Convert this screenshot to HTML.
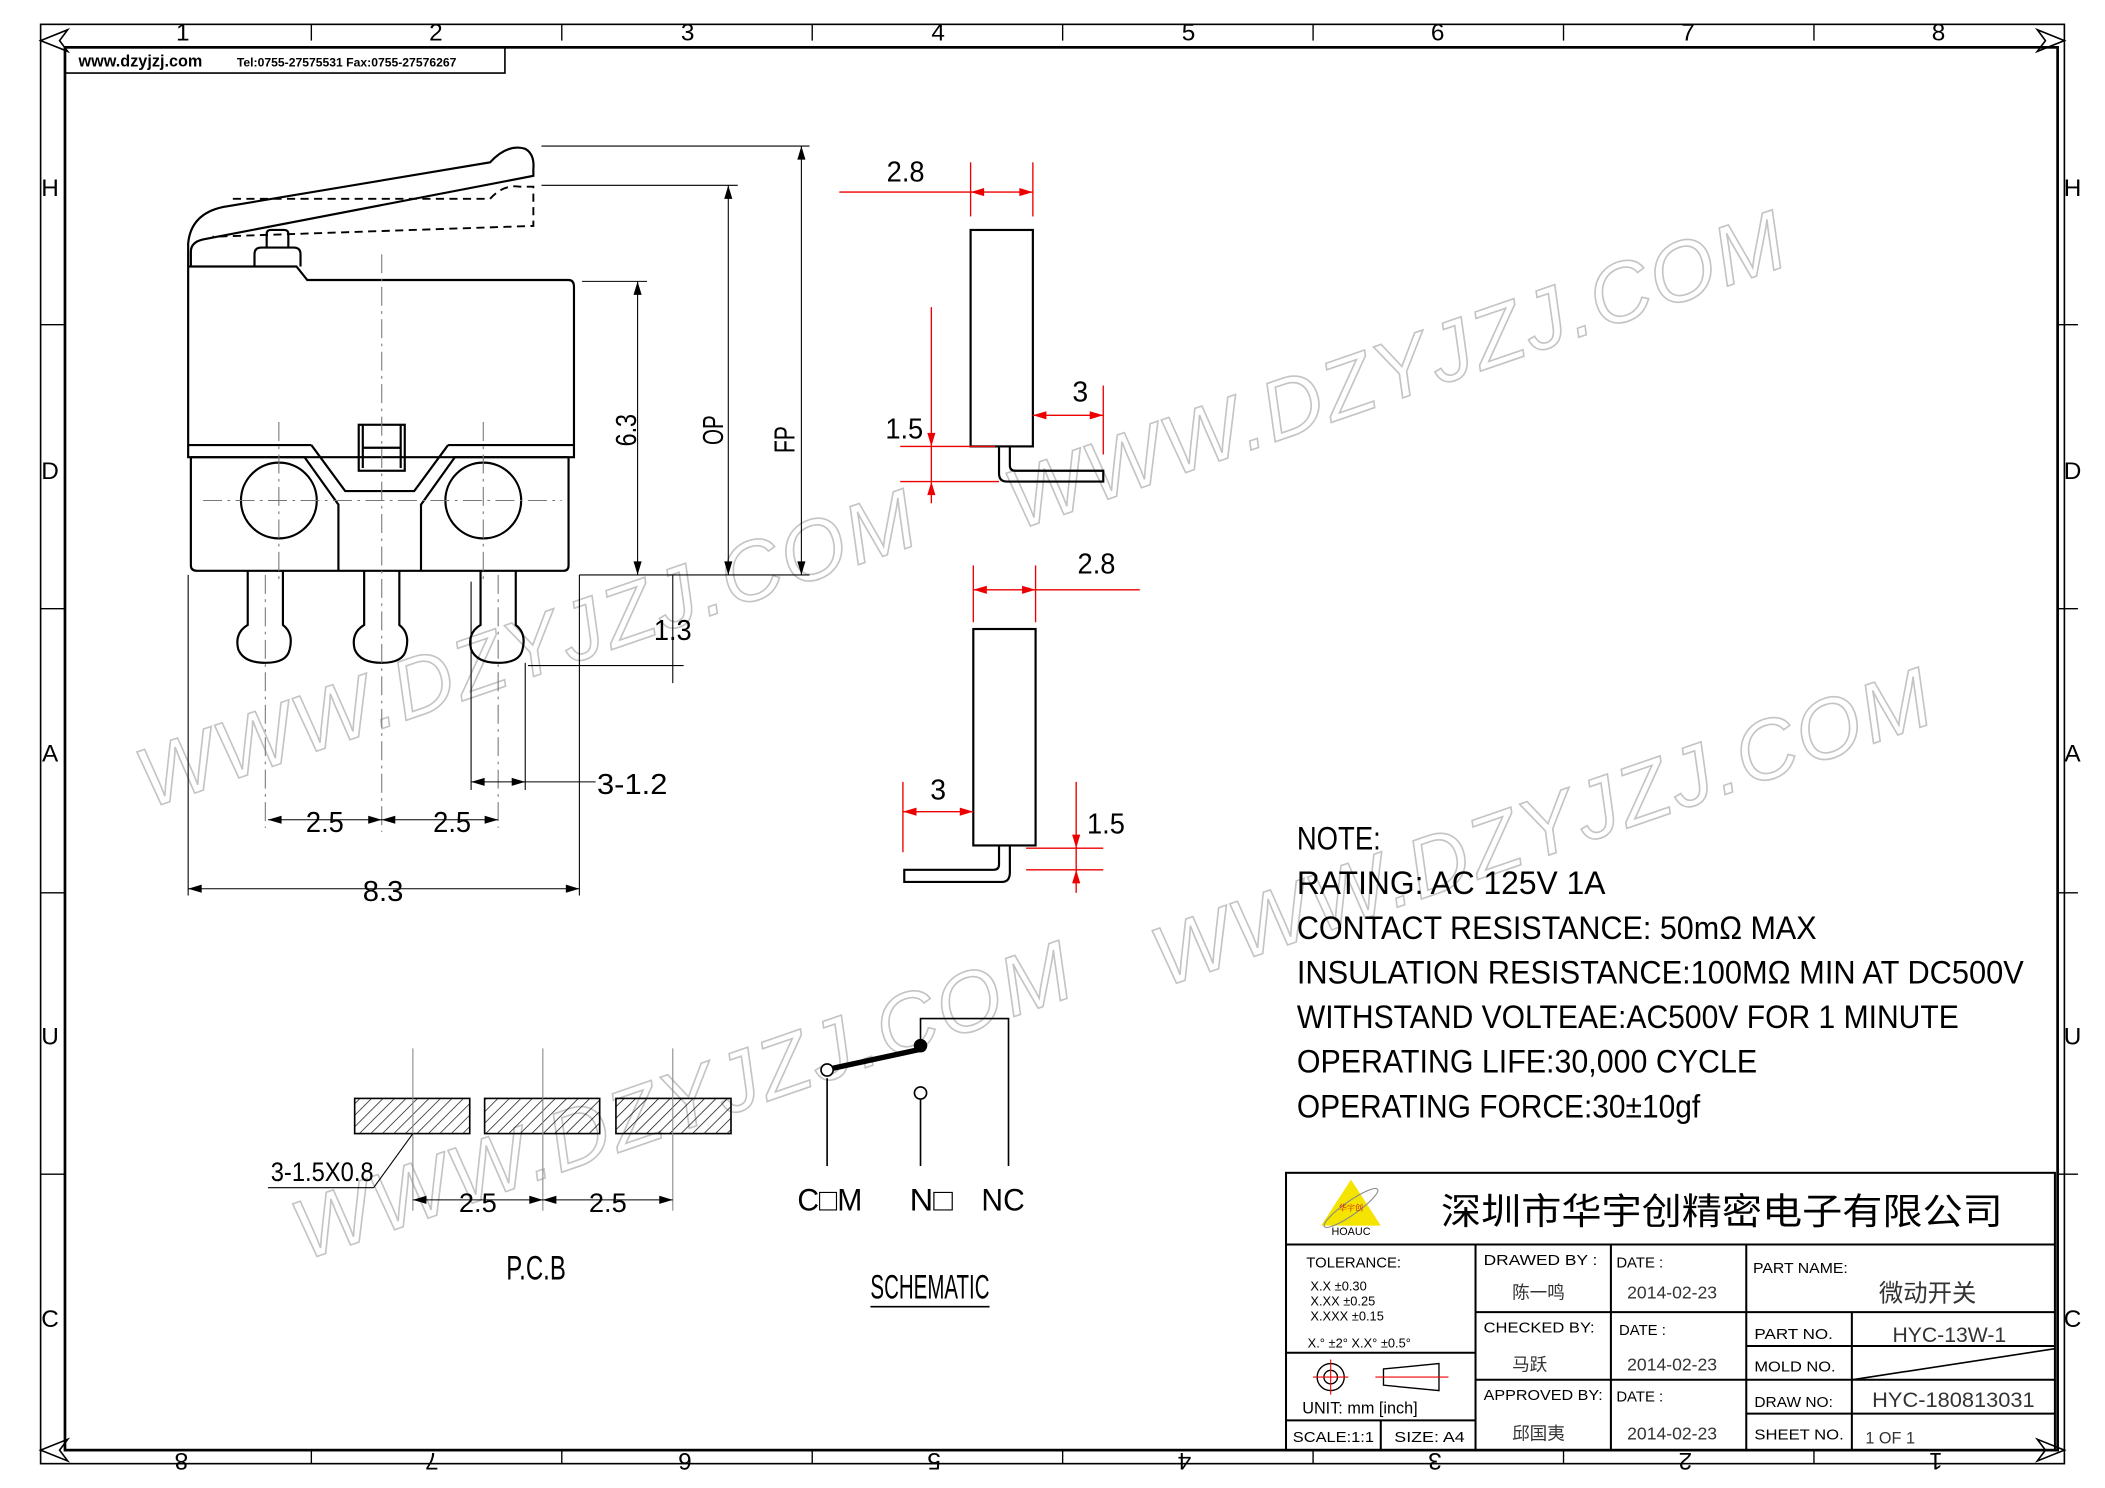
<!DOCTYPE html>
<html><head><meta charset="utf-8"><style>
html,body{margin:0;padding:0;background:#fff;}
svg{display:block;}
text{font-family:"Liberation Sans","Noto Sans CJK SC",sans-serif;}
.cn{font-family:"Liberation Serif","Noto Serif CJK SC","Noto Sans CJK SC",serif;}
</style></head><body>
<svg width="2105" height="1488" viewBox="0 0 1555 1100" preserveAspectRatio="none" xmlns="http://www.w3.org/2000/svg">
<defs>
<pattern id="h" width="6" height="6" patternUnits="userSpaceOnUse" patternTransform="rotate(45)"><line x1="0" y1="0" x2="0" y2="6" stroke="#000" stroke-width="1"/></pattern>
</defs>
<rect width="1555" height="1100" fill="#fff"/>
<!-- watermarks -->
<g fill="none" stroke="#c4c4c4" stroke-width="1.2" font-size="62" font-style="italic" font-family="Liberation Sans, sans-serif" letter-spacing="6">
<text x="110" y="598" transform="rotate(-19 110 598)" textLength="610">WWW.DZYJZJ.COM</text>
<text x="752" y="392" transform="rotate(-19 752 392)" textLength="610">WWW.DZYJZJ.COM</text>
<text x="225" y="932" transform="rotate(-19 225 932)" textLength="610">WWW.DZYJZJ.COM</text>
<text x="860" y="730" transform="rotate(-19 860 730)" textLength="610">WWW.DZYJZJ.COM</text>
</g>
<!-- frame -->
<g fill="none" stroke="#000">
<rect x="30" y="18" width="1495" height="1064" stroke-width="1.2"/>
<rect x="48" y="35" width="1472" height="1037" stroke-width="2"/>
<rect x="48" y="35" width="325" height="19" stroke-width="1.2"/>
</g>
<g stroke="#000" stroke-width="1">
<line x1="230" y1="18" x2="230" y2="30"/><line x1="415" y1="18" x2="415" y2="30"/><line x1="600" y1="18" x2="600" y2="30"/><line x1="785" y1="18" x2="785" y2="30"/><line x1="970" y1="18" x2="970" y2="30"/><line x1="1155" y1="18" x2="1155" y2="30"/><line x1="1340" y1="18" x2="1340" y2="30"/>
<line x1="230" y1="1072" x2="230" y2="1082"/><line x1="415" y1="1072" x2="415" y2="1082"/><line x1="600" y1="1072" x2="600" y2="1082"/><line x1="785" y1="1072" x2="785" y2="1082"/><line x1="970" y1="1072" x2="970" y2="1082"/><line x1="1155" y1="1072" x2="1155" y2="1082"/><line x1="1340" y1="1072" x2="1340" y2="1082"/>
<line x1="30" y1="240" x2="48" y2="240"/><line x1="30" y1="450" x2="48" y2="450"/><line x1="30" y1="660" x2="48" y2="660"/><line x1="30" y1="868" x2="48" y2="868"/>
<line x1="1520" y1="240" x2="1535" y2="240"/><line x1="1520" y1="450" x2="1535" y2="450"/><line x1="1520" y1="660" x2="1535" y2="660"/><line x1="1520" y1="868" x2="1535" y2="868"/>
</g>
<g fill="none" stroke="#000" stroke-width="1.2">
<path d="M30,30 L50,22 L44,30 L50,38 Z"/><path d="M1525,30 L1505,22 L1511,30 L1505,38 Z"/>
<path d="M30,1072 L50,1064 L44,1072 L50,1080 Z"/><path d="M1525,1072 L1505,1064 L1511,1072 L1505,1080 Z"/>
</g>
<g font-size="18" fill="#000" text-anchor="middle">
<text x="135" y="30">1</text><text x="322" y="30">2</text><text x="508" y="30">3</text><text x="693" y="30">4</text><text x="878" y="30">5</text><text x="1062" y="30">6</text><text x="1247" y="30">7</text><text x="1432" y="30">8</text>
<g transform="rotate(180 778 1082)"><text x="126" y="1090">1</text><text x="311" y="1090">2</text><text x="496" y="1090">3</text><text x="681" y="1090">4</text><text x="866" y="1090">5</text><text x="1050" y="1090">6</text><text x="1237" y="1090">7</text><text x="1422" y="1090">8</text></g>
<text x="37" y="145">H</text><text x="37" y="354">D</text><text x="37" y="563">A</text><text x="37" y="772">U</text><text x="37" y="981">C</text>
<text x="1531" y="145">H</text><text x="1531" y="354">D</text><text x="1531" y="563">A</text><text x="1531" y="772">U</text><text x="1531" y="981">C</text>
</g>
<text x="58" y="49" font-size="12" font-weight="bold" font-family="Liberation Serif, serif">www.dzyjzj.com</text>
<text x="175" y="49" font-size="9" font-weight="bold" font-family="Liberation Serif, serif">Tel:0755-27575531  Fax:0755-27576267</text>

<!-- switch front view -->
<g fill="none" stroke="#000" stroke-width="1.6">
<path d="M139,338 L139,197 L219,197 L227,207 L420,207 Q424,207 424,212 L424,338 Z"/>
<line x1="139" y1="329" x2="230" y2="329"/><line x1="331" y1="329" x2="424" y2="329"/>
<path d="M230,329 L255,363 L306,363 L331,329"/>
<path d="M141,338 L141,418 Q141,422 146,422 L416,422 Q420,422 420,418 L420,338"/>
<path d="M141,338 L225,338 L250,373 L250,422"/><path d="M420,338 L336,338 L311,373 L311,422"/>
<circle cx="206" cy="370" r="28"/><circle cx="357" cy="370" r="28"/>
<rect x="265" y="314" width="34" height="34"/><line x1="268" y1="331" x2="296" y2="331"/><line x1="268" y1="314" x2="268" y2="346"/><line x1="296" y1="314" x2="296" y2="346"/>
<path d="M188,197 L188,188 Q188,183 193,183 L217,183 Q222,183 222,188 L222,197"/>
<path d="M197,183 L197,173 Q197,170 200,170 L210,170 Q213,170 213,173 L213,183"/>
<path d="M139,197 L139,180 Q141,158 165,153 L362,120 Q375,106 388,110 Q395,114 394,125 L394,130 L150,177 Q141,179 141,186 L141,197"/>
<path d="M183,422 L183,462 Q173,468 176,480 Q180,490 196,490 Q212,490 214,480 Q217,468 209,462 L209,422"/>
<path d="M269,422 L269,462 Q259,468 262,480 Q266,490 282,490 Q298,490 300,480 Q303,468 295,462 L295,422"/>
<path d="M355,422 L355,462 Q345,468 348,480 Q352,490 368,490 Q384,490 386,480 Q389,468 381,462 L381,422"/>
</g>
<g fill="none" stroke="#000" stroke-width="1.4" stroke-dasharray="6,4">
<path d="M172,147 L362,147 Q372,136 384,138 L394,138 L394,167 L157,175"/>
</g>
<g fill="none" stroke="#777" stroke-width="0.8" stroke-dasharray="14,4,2,4">
<line x1="282" y1="188" x2="282" y2="615"/>
<line x1="150" y1="370" x2="415" y2="370"/>
<line x1="206" y1="312" x2="206" y2="428"/><line x1="357" y1="312" x2="357" y2="428"/>
<line x1="196" y1="425" x2="196" y2="612"/><line x1="368" y1="425" x2="368" y2="612"/>
</g>
<g stroke="#000" stroke-width="0.8" fill="none">
<line x1="400" y1="108" x2="598" y2="108"/><line x1="400" y1="137" x2="545" y2="137"/>
<line x1="430" y1="208" x2="478" y2="208"/><line x1="428" y1="425" x2="598" y2="425"/>
<line x1="592" y1="108" x2="592" y2="425"/><line x1="538" y1="137" x2="538" y2="425"/><line x1="471" y1="208" x2="471" y2="425"/>
<line x1="390" y1="492" x2="505" y2="492"/><line x1="497" y1="425" x2="497" y2="505"/>
<line x1="348" y1="430" x2="348" y2="584"/><line x1="388" y1="490" x2="388" y2="584"/>
<line x1="348" y1="578" x2="440" y2="578"/>
<line x1="198" y1="606" x2="368" y2="606"/>
<line x1="139" y1="425" x2="139" y2="662"/><line x1="428" y1="425" x2="428" y2="662"/>
<line x1="139" y1="657" x2="428" y2="657"/>
</g>
<g fill="#000">
<path d="M592,108 l-3,10 l6,0z"/><path d="M592,425 l-3,-10 l6,0z"/>
<path d="M538,137 l-3,10 l6,0z"/><path d="M538,425 l-3,-10 l6,0z"/>
<path d="M471,208 l-3,10 l6,0z"/><path d="M471,425 l-3,-10 l6,0z"/>
<path d="M348,578 l10,-3 l0,6z"/><path d="M388,578 l-10,-3 l0,6z"/>
<path d="M198,606 l10,-3 l0,6z"/><path d="M282,606 l-10,-3 l0,6z"/><path d="M282,606 l10,-3 l0,6z"/><path d="M368,606 l-10,-3 l0,6z"/>
<path d="M139,657 l10,-3 l0,6z"/><path d="M428,657 l-10,-3 l0,6z"/>
</g>
<g font-size="21" fill="#000" text-anchor="middle">
<text x="464" y="318" transform="rotate(-90 464 318)" dy="6" textLength="24" lengthAdjust="spacingAndGlyphs">6.3</text>
<text x="528" y="318" transform="rotate(-90 528 318)" dy="6" textLength="22" lengthAdjust="spacingAndGlyphs">OP</text>
<text x="581" y="325" transform="rotate(-90 581 325)" dy="6" textLength="20" lengthAdjust="spacingAndGlyphs">FP</text>
<text x="497" y="473" textLength="28" lengthAdjust="spacingAndGlyphs">1.3</text>
<text x="467" y="587" textLength="52" lengthAdjust="spacingAndGlyphs">3-1.2</text>
<text x="240" y="615" textLength="28" lengthAdjust="spacingAndGlyphs">2.5</text><text x="334" y="615" textLength="28" lengthAdjust="spacingAndGlyphs">2.5</text>
<text x="283" y="666" textLength="30" lengthAdjust="spacingAndGlyphs">8.3</text>
</g>

<!-- side views -->
<g fill="none" stroke="#000" stroke-width="1.6">
<rect x="717" y="170" width="46" height="160"/>
<path d="M738,330 L738,350 Q738,356 744,356 L815,356 L815,348 L750,348 Q746,348 746,344 L746,330"/>
<rect x="719" y="465" width="46" height="160"/>
<path d="M746,625 L746,645 Q746,652 740,652 L668,652 L668,643 L734,643 Q738,643 738,639 L738,625"/>
</g>
<g stroke="#e00" stroke-width="1" fill="none">
<line x1="717" y1="120" x2="717" y2="160"/><line x1="763" y1="120" x2="763" y2="160"/><line x1="620" y1="142" x2="763" y2="142"/>
<line x1="815" y1="285" x2="815" y2="336"/><line x1="763" y1="307" x2="815" y2="307"/>
<line x1="688" y1="227" x2="688" y2="372"/><line x1="665" y1="330" x2="735" y2="330"/><line x1="665" y1="356" x2="738" y2="356"/>
<line x1="719" y1="418" x2="719" y2="460"/><line x1="765" y1="418" x2="765" y2="460"/><line x1="719" y1="436" x2="842" y2="436"/>
<line x1="667" y1="578" x2="667" y2="630"/><line x1="667" y1="600" x2="719" y2="600"/>
<line x1="795" y1="578" x2="795" y2="660"/><line x1="758" y1="627" x2="815" y2="627"/><line x1="758" y1="643" x2="815" y2="643"/>
</g>
<g fill="#e00">
<path d="M717,142 l10,-3 l0,6z"/><path d="M763,142 l-10,-3 l0,6z"/>
<path d="M763,307 l10,-3 l0,6z"/><path d="M815,307 l-10,-3 l0,6z"/>
<path d="M688,330 l-3,-10 l6,0z"/><path d="M688,356 l-3,10 l6,0z"/>
<path d="M719,436 l10,-3 l0,6z"/><path d="M765,436 l-10,-3 l0,6z"/>
<path d="M667,600 l10,-3 l0,6z"/><path d="M719,600 l-10,-3 l0,6z"/>
<path d="M795,627 l-3,-10 l6,0z"/><path d="M795,643 l-3,10 l6,0z"/>
</g>
<g font-size="21" fill="#000" text-anchor="middle">
<text x="669" y="134" textLength="28" lengthAdjust="spacingAndGlyphs">2.8</text><text x="798" y="297">3</text><text x="668" y="324" textLength="28" lengthAdjust="spacingAndGlyphs">1.5</text>
<text x="810" y="424" textLength="28" lengthAdjust="spacingAndGlyphs">2.8</text><text x="693" y="591">3</text><text x="817" y="616" textLength="28" lengthAdjust="spacingAndGlyphs">1.5</text>
</g>

<!-- notes -->
<g font-size="24" fill="#000">
<text x="958" y="628" textLength="62" lengthAdjust="spacingAndGlyphs">NOTE:</text>
<text x="958" y="661" textLength="228" lengthAdjust="spacingAndGlyphs">RATING: AC 125V 1A</text>
<text x="958" y="694" textLength="384" lengthAdjust="spacingAndGlyphs">CONTACT RESISTANCE: 50mΩ MAX</text>
<text x="958" y="727" textLength="537" lengthAdjust="spacingAndGlyphs">INSULATION RESISTANCE:100MΩ MIN AT DC500V</text>
<text x="958" y="760" textLength="489" lengthAdjust="spacingAndGlyphs">WITHSTAND VOLTEAE:AC500V FOR 1 MINUTE</text>
<text x="958" y="793" textLength="340" lengthAdjust="spacingAndGlyphs">OPERATING LIFE:30,000 CYCLE</text>
<text x="958" y="826" textLength="298" lengthAdjust="spacingAndGlyphs">OPERATING FORCE:30±10gf</text>
</g>

<!-- PCB -->
<g stroke="#000" stroke-width="1.2">
<rect x="262" y="812" width="85" height="26" fill="url(#h)"/>
<rect x="358" y="812" width="85" height="26" fill="url(#h)"/>
<rect x="455" y="812" width="85" height="26" fill="url(#h)"/>
</g>
<g stroke="#888" stroke-width="0.8"><line x1="305" y1="775" x2="305" y2="895"/><line x1="401" y1="775" x2="401" y2="895"/><line x1="497" y1="775" x2="497" y2="895"/></g>
<g stroke="#000" stroke-width="0.8"><line x1="198" y1="878" x2="276" y2="878"/><line x1="276" y1="878" x2="305" y2="838"/><line x1="305" y1="887" x2="497" y2="887"/></g>
<g fill="#000"><path d="M305,887 l10,-3 l0,6z"/><path d="M401,887 l-10,-3 l0,6z"/><path d="M401,887 l10,-3 l0,6z"/><path d="M497,887 l-10,-3 l0,6z"/></g>
<g font-size="20" fill="#000" text-anchor="middle">
<text x="238" y="873" textLength="76" lengthAdjust="spacingAndGlyphs">3-1.5X0.8</text>
<text x="353" y="896" textLength="28" lengthAdjust="spacingAndGlyphs">2.5</text><text x="449" y="896" textLength="28" lengthAdjust="spacingAndGlyphs">2.5</text>
<text x="396" y="946" font-size="25" textLength="44" lengthAdjust="spacingAndGlyphs">P.C.B</text>
</g>

<!-- schematic -->
<g stroke="#000" fill="none" stroke-width="1.2">
<line x1="611" y1="797" x2="611" y2="862"/>
<line x1="680" y1="813" x2="680" y2="862"/>
<path d="M680,773 L680,753 L745,753 L745,862"/>
<line x1="614" y1="790" x2="683" y2="775" stroke-width="4"/>
<circle cx="611" cy="791" r="4.5" fill="#fff"/>
<circle cx="680" cy="808" r="4.5" fill="#fff"/>
</g>
<circle cx="680" cy="773" r="5" fill="#000"/>
<g font-size="23" fill="#000" text-anchor="middle">
<text x="613" y="895" textLength="48" lengthAdjust="spacingAndGlyphs">C□M</text><text x="688" y="895" textLength="32" lengthAdjust="spacingAndGlyphs">N□</text><text x="741" y="895" textLength="32" lengthAdjust="spacingAndGlyphs">NC</text>
<text x="687" y="960" font-size="25" textLength="88" lengthAdjust="spacingAndGlyphs">SCHEMATIC</text>
</g>
<line x1="643" y1="966" x2="731" y2="966" stroke="#000" stroke-width="1.2"/>

<!-- title block -->
<g fill="none" stroke="#000" stroke-width="1.5">
<rect x="950" y="867" width="568" height="205"/>
<line x1="950" y1="920" x2="1518" y2="920"/>
<line x1="1090" y1="920" x2="1090" y2="1072"/><line x1="1190" y1="920" x2="1190" y2="1072"/><line x1="1290" y1="920" x2="1290" y2="1072"/>
<line x1="1090" y1="970" x2="1518" y2="970"/><line x1="1090" y1="1020" x2="1290" y2="1020"/>
<line x1="950" y1="1000" x2="1090" y2="1000"/><line x1="950" y1="1050" x2="1090" y2="1050"/><line x1="1020" y1="1050" x2="1020" y2="1072"/>
<line x1="1290" y1="995" x2="1518" y2="995"/><line x1="1290" y1="1020" x2="1518" y2="1020"/><line x1="1290" y1="1045" x2="1518" y2="1045"/>
<line x1="1368" y1="970" x2="1368" y2="1072"/>
<line x1="1368" y1="1020" x2="1518" y2="997" stroke-width="1.2"/>
</g>
<path d="M998,872 L1020,906 L976,906 Z" fill="#f5e400"/>
<ellipse cx="998" cy="893" rx="24" ry="5" transform="rotate(-35 998 893)" fill="none" stroke="#888" stroke-width="0.8"/>
<text x="998" y="895" font-size="6" fill="#c00" text-anchor="middle" class="cn">华宇创</text>
<text x="998" y="913" font-size="8" fill="#000" text-anchor="middle">HOAUC</text>
<text x="1272" y="905" font-size="27" fill="#000" text-anchor="middle" font-family="Noto Sans CJK SC, sans-serif" textLength="415" lengthAdjust="spacingAndGlyphs">深圳市华宇创精密电子有限公司</text>
<g font-size="11" fill="#000">
<text x="965" y="937" textLength="70" lengthAdjust="spacingAndGlyphs">TOLERANCE:</text>
<text x="968" y="954" font-size="9.5">X.X      ±0.30</text>
<text x="968" y="965" font-size="9.5">X.XX    ±0.25</text>
<text x="968" y="976" font-size="9.5">X.XXX  ±0.15</text>
<text x="966" y="996" font-size="9.5">X.° ±2°       X.X° ±0.5°</text>
<text x="962" y="1045" font-size="12">UNIT:  mm  [inch]</text>
<text x="955" y="1066" textLength="60" lengthAdjust="spacingAndGlyphs">SCALE:1:1</text><text x="1030" y="1066" textLength="52" lengthAdjust="spacingAndGlyphs">SIZE:  A4</text>
<text x="1096" y="935" textLength="84" lengthAdjust="spacingAndGlyphs">DRAWED BY :</text><text x="1194" y="937">DATE  :</text>
<text x="1096" y="985" textLength="82" lengthAdjust="spacingAndGlyphs">CHECKED BY:</text><text x="1196" y="987">DATE  :</text>
<text x="1096" y="1035" textLength="88" lengthAdjust="spacingAndGlyphs">APPROVED BY:</text><text x="1194" y="1036">DATE  :</text>
<text x="1295" y="941" textLength="70" lengthAdjust="spacingAndGlyphs">PART  NAME:</text>
<text x="1296" y="990" textLength="58" lengthAdjust="spacingAndGlyphs">PART  NO.</text><text x="1296" y="1014" textLength="60" lengthAdjust="spacingAndGlyphs">MOLD  NO.</text>
<text x="1296" y="1040" textLength="58" lengthAdjust="spacingAndGlyphs">DRAW  NO:</text><text x="1296" y="1064" textLength="66" lengthAdjust="spacingAndGlyphs">SHEET  NO.</text>
</g>
<g fill="#333" class="cn" font-size="13">
<text x="1117" y="960">陈一鸣</text><text x="1117" y="1013">马跃</text><text x="1117" y="1064">邱国夷</text>
<text x="1202" y="960">2014-02-23</text><text x="1202" y="1013">2014-02-23</text><text x="1202" y="1064">2014-02-23</text>
<text x="1388" y="962" font-size="18">微动开关</text>
<text x="1398" y="992" font-size="16" textLength="84" lengthAdjust="spacingAndGlyphs">HYC-13W-1</text>
<text x="1383" y="1040" font-size="16" textLength="120" lengthAdjust="spacingAndGlyphs">HYC-180813031</text>
<text x="1378" y="1067" font-size="12">1 OF 1</text>
</g>
<g stroke="#000" fill="none" stroke-width="1">
<circle cx="983" cy="1018" r="10"/><circle cx="983" cy="1018" r="5"/>
<path d="M1022,1012 L1063,1008 L1063,1028 L1022,1024 Z"/>
</g>
<g stroke="#e00" stroke-width="0.8"><line x1="970" y1="1018" x2="996" y2="1018"/><line x1="983" y1="1005" x2="983" y2="1031"/><line x1="1016" y1="1018" x2="1070" y2="1018"/></g>
</svg>
</body></html>
